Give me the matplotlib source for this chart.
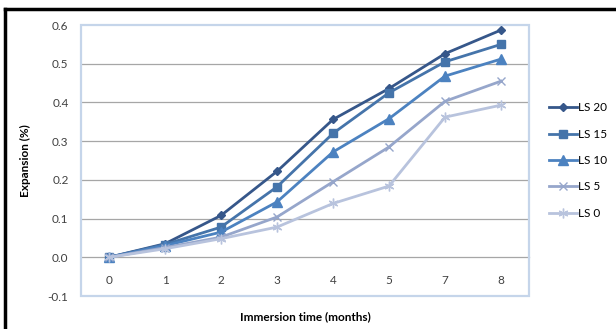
import matplotlib
matplotlib.use("Agg")
import matplotlib.pyplot as plt
from matplotlib.patches import Rectangle
from matplotlib.lines import Line2D

months = ["0", "1", "2", "3", "4", "5", "7", "8"]
ls20 = [0.0, 0.035, 0.108, 0.222, 0.356, 0.436, 0.526, 0.587]
ls15 = [0.0, 0.033, 0.078, 0.182, 0.320, 0.425, 0.505, 0.550]
ls10 = [0.0, 0.030, 0.065, 0.143, 0.272, 0.358, 0.468, 0.512]
ls5 = [0.0, 0.025, 0.052, 0.104, 0.195, 0.285, 0.403, 0.455]
ls0 = [0.0, 0.022, 0.048, 0.078, 0.139, 0.184, 0.362, 0.393]
series_labels = ["LS 20", "LS 15", "LS 10", "LS 5", "LS 0"]

STYLES = [
    {"color": "#36578A", "marker": "D", "markersize": 4.5},
    {"color": "#4574AA", "marker": "s", "markersize": 6},
    {"color": "#4C82C0", "marker": "^", "markersize": 6.5},
    {"color": "#96A6CB", "marker": "x", "markersize": 6, "markeredgewidth": 1.0},
    {"color": "#B8C3DD", "marker": (6, 2, 0), "markersize": 7, "markeredgewidth": 1.0},
]

plt.rcParams["font.family"] = ["Lato", "DejaVu Sans"]

fig = plt.figure(figsize=(6.16, 3.29), dpi=100)
ax = fig.add_axes([0.1315, 0.1003, 0.7273, 0.8237])

x = list(range(len(months)))
for vals, lab, st in zip([ls20, ls15, ls10, ls5, ls0], series_labels, STYLES):
    ax.plot(x, vals, label=lab, linewidth=2.0, **st)

ax.set_xlim(-0.5, len(months) - 0.5)
ax.set_ylim(-0.1, 0.6)
ax.set_yticks([-0.1, 0.0, 0.1, 0.2, 0.3, 0.4, 0.5, 0.6])
ax.set_yticklabels([f"{v:.1f}" for v in ax.get_yticks()])
ax.set_xticks(x)
ax.set_xticklabels(months)

for y in [0.1, 0.2, 0.3, 0.4, 0.5]:
    ax.axhline(y, color="#A6A6A6", linewidth=0.9, zorder=0)

for s in ["top", "right", "left"]:
    ax.spines[s].set_visible(False)
ax.spines["bottom"].set_position(("data", 0))
ax.spines["bottom"].set_color("#A6A6A6")
ax.spines["bottom"].set_linewidth(0.9)
ax.spines["bottom"].set_zorder(0)

ax.add_patch(Rectangle((0, 0), 1, 1, transform=ax.transAxes, fill=False,
                       edgecolor="#C5D5EA", linewidth=1.6, clip_on=False, zorder=1))

ax.tick_params(axis="x", length=0, pad=13, labelsize=8.5, labelcolor="#404040")
ax.tick_params(axis="y", length=0, pad=9, labelsize=8.5, labelcolor="#404040")

ax.set_xlabel("Immersion time (months)", fontsize=8.5, fontweight="bold")
ax.xaxis.set_label_coords(0.5, -0.055)
ax.set_ylabel("Expansion (%)", fontsize=8.5, fontweight="bold")
ax.yaxis.set_label_coords(-0.112, 0.5)

ax.legend(loc="center left", bbox_to_anchor=(1.02, 0.5), frameon=False,
          fontsize=8.5, handlelength=2.4, handletextpad=0.1, labelspacing=1.3)

# black frame on top and left
fig.add_artist(Line2D([5 / 616, 5 / 616], [0, 1 - 9 / 329], color="black", linewidth=2.5))
fig.add_artist(Line2D([5 / 616, 1], [1 - 9 / 329, 1 - 9 / 329], color="black", linewidth=2.5))

fig.savefig("out.png", dpi=100)
